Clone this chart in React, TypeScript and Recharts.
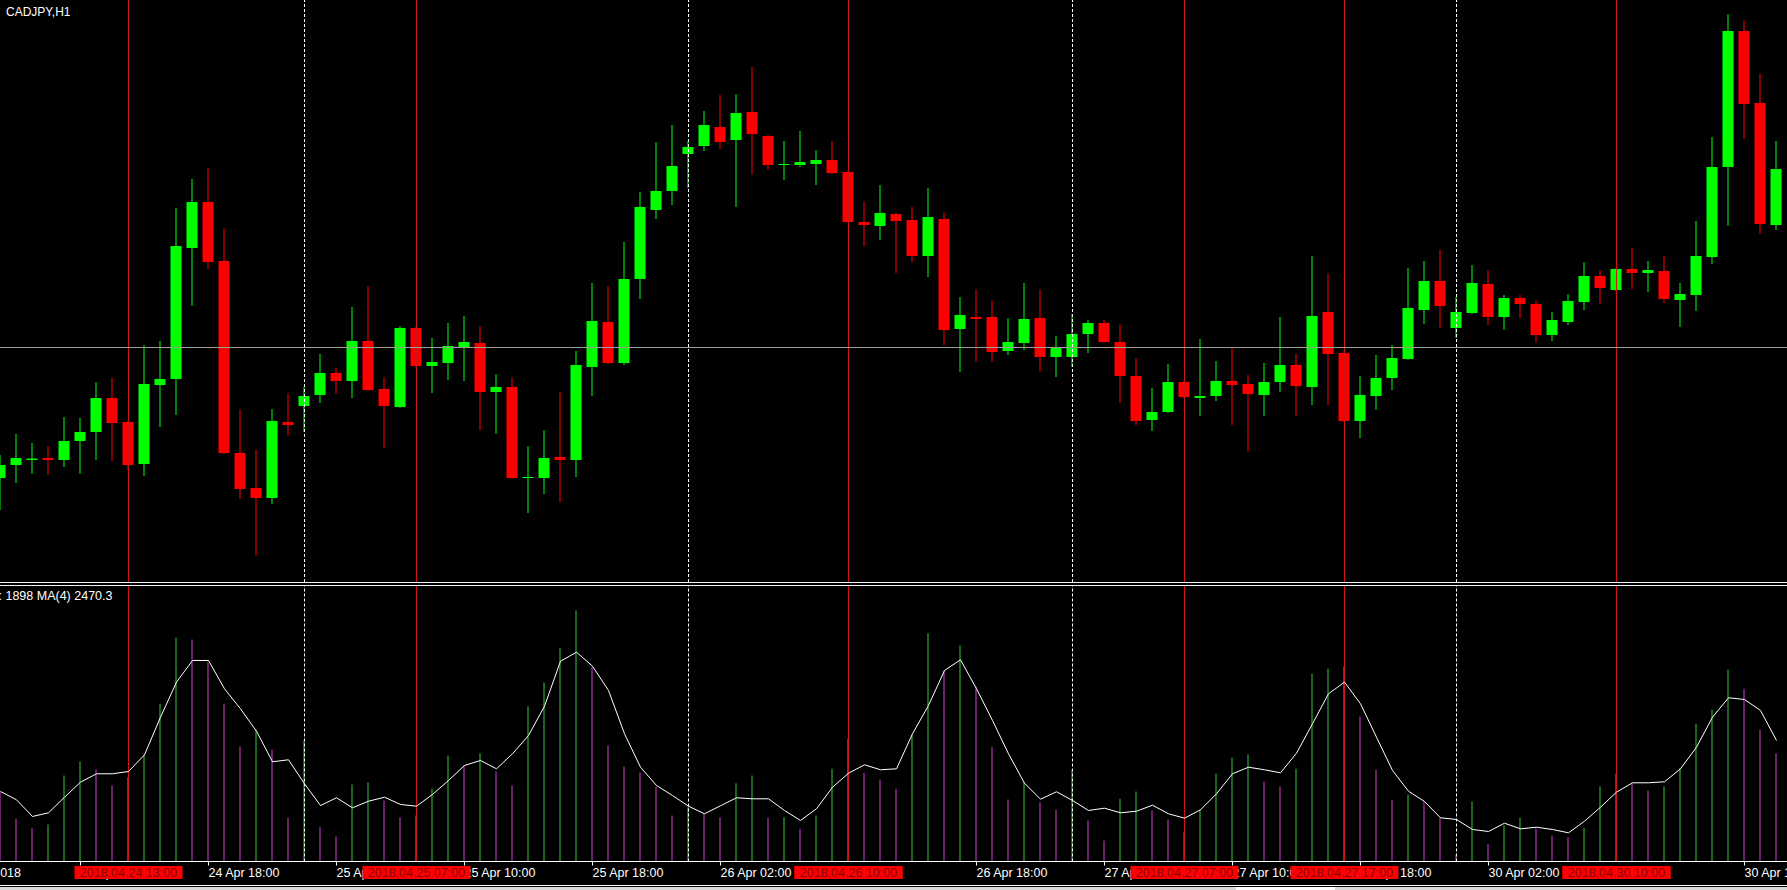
import { ComposedChart, Bar, Line, XAxis, YAxis, ReferenceLine, Cell } from "recharts";

// CADJPY H1, bar 0 = 2018.04.24 05:00
const opens = [
  84.044, 84.070, 84.080, 84.084, 84.080, 84.118, 84.136, 84.204, 84.156, 84.072,
  84.230, 84.242, 84.504, 84.596, 84.478, 84.094, 84.024, 84.004, 84.156, 84.188,
  84.210, 84.254, 84.238, 84.318, 84.222, 84.186, 84.344, 84.268, 84.274, 84.306,
  84.314, 84.216, 84.226, 84.044, 84.044, 84.086, 84.080, 84.266, 84.356, 84.274,
  84.442, 84.580, 84.618, 84.692, 84.708, 84.746, 84.720, 84.776, 84.728, 84.670,
  84.670, 84.672, 84.680, 84.656, 84.556, 84.548, 84.572, 84.560, 84.488, 84.562,
  84.342, 84.366, 84.366, 84.298, 84.314, 84.364, 84.286, 84.286, 84.332, 84.354,
  84.316, 84.248, 84.160, 84.176, 84.236, 84.204, 84.208, 84.238, 84.232, 84.210,
  84.236, 84.270, 84.226, 84.376, 84.294, 84.158, 84.208, 84.244, 84.282, 84.380,
  84.438, 84.344, 84.374, 84.432, 84.366, 84.404, 84.392, 84.330, 84.356, 84.396,
  84.448, 84.420, 84.462, 84.454, 84.458, 84.400, 84.410, 84.486, 84.666, 84.938,
  84.794, 84.550,
];
const highs = [
  84.090, 84.132, 84.114, 84.108, 84.166, 84.164, 84.236, 84.244, 84.160, 84.310,
  84.318, 84.584, 84.642, 84.664, 84.544, 84.182, 84.100, 84.182, 84.214, 84.226,
  84.292, 84.264, 84.386, 84.428, 84.246, 84.348, 84.348, 84.324, 84.354, 84.368,
  84.348, 84.252, 84.246, 84.108, 84.140, 84.216, 84.298, 84.434, 84.428, 84.516,
  84.616, 84.716, 84.750, 84.718, 84.778, 84.810, 84.812, 84.866, 84.730, 84.718,
  84.738, 84.700, 84.718, 84.660, 84.598, 84.630, 84.574, 84.586, 84.624, 84.576,
  84.406, 84.422, 84.400, 84.364, 84.434, 84.422, 84.328, 84.372, 84.360, 84.360,
  84.352, 84.284, 84.224, 84.272, 84.240, 84.322, 84.278, 84.304, 84.250, 84.274,
  84.366, 84.292, 84.488, 84.454, 84.300, 84.248, 84.290, 84.310, 84.464, 84.478,
  84.500, 84.406, 84.470, 84.460, 84.410, 84.410, 84.400, 84.376, 84.412, 84.476,
  84.460, 84.464, 84.504, 84.478, 84.488, 84.434, 84.558, 84.726, 84.972, 84.960,
  84.852, 84.718,
];
const lows = [
  83.980, 84.034, 84.052, 84.050, 84.066, 84.052, 84.080, 84.078, 84.060, 84.048,
  84.146, 84.170, 84.388, 84.462, 84.092, 84.002, 83.888, 83.992, 84.128, 84.136,
  84.194, 84.212, 84.204, 84.218, 84.104, 84.184, 84.264, 84.214, 84.240, 84.238,
  84.140, 84.132, 84.042, 83.974, 84.012, 83.996, 84.046, 84.208, 84.272, 84.270,
  84.402, 84.562, 84.590, 84.624, 84.698, 84.702, 84.586, 84.650, 84.660, 84.640,
  84.666, 84.630, 84.652, 84.554, 84.508, 84.520, 84.454, 84.476, 84.446, 84.310,
  84.256, 84.276, 84.276, 84.290, 84.300, 84.256, 84.246, 84.266, 84.294, 84.314,
  84.194, 84.150, 84.138, 84.174, 84.202, 84.168, 84.198, 84.150, 84.096, 84.168,
  84.216, 84.168, 84.190, 84.190, 84.156, 84.124, 84.180, 84.220, 84.280, 84.352,
  84.344, 84.324, 84.372, 84.350, 84.340, 84.364, 84.314, 84.318, 84.350, 84.380,
  84.392, 84.418, 84.422, 84.416, 84.394, 84.346, 84.378, 84.472, 84.548, 84.722,
  84.532, 84.540,
];
const closes = [
  84.070, 84.084, 84.083, 84.080, 84.118, 84.136, 84.204, 84.154, 84.070, 84.232,
  84.242, 84.508, 84.596, 84.476, 84.094, 84.022, 84.004, 84.158, 84.150, 84.208,
  84.254, 84.238, 84.318, 84.220, 84.188, 84.344, 84.268, 84.276, 84.308, 84.316,
  84.216, 84.226, 84.044, 84.046, 84.084, 84.080, 84.270, 84.358, 84.274, 84.442,
  84.586, 84.618, 84.668, 84.706, 84.750, 84.716, 84.774, 84.732, 84.670, 84.672,
  84.676, 84.680, 84.654, 84.556, 84.550, 84.574, 84.558, 84.488, 84.566, 84.340,
  84.370, 84.362, 84.296, 84.316, 84.362, 84.286, 84.306, 84.332, 84.354, 84.316,
  84.248, 84.158, 84.176, 84.236, 84.206, 84.208, 84.238, 84.230, 84.212, 84.236,
  84.270, 84.228, 84.368, 84.292, 84.158, 84.210, 84.244, 84.284, 84.384, 84.438,
  84.388, 84.376, 84.434, 84.366, 84.404, 84.392, 84.330, 84.360, 84.398, 84.448,
  84.424, 84.462, 84.454, 84.460, 84.402, 84.412, 84.488, 84.666, 84.938, 84.792,
  84.552, 84.662,
];
const volumes = [
  1225, 747, 583, 648, 1505, 1750, 1610, 1330, 1475, 1867,
  2760, 3915, 3885, 3488, 2760, 2013, 2305, 1960, 765, 2118,
  600, 438, 1348, 1383, 1068, 775, 805, 1272, 1855, 1680,
  1895, 1580, 1330, 2718, 3133, 3740, 4393, 3400, 2030, 1663,
  1558, 1313, 805, 950, 835, 775, 1370, 1505, 765, 775,
  572, 805, 1622, 2147, 1552, 1435, 1272, 2223, 3995, 3343,
  3780, 3063, 2000, 1085, 1388, 1038, 905, 1605, 718, 368,
  1097, 1225, 893, 735, 513, 905, 1535, 1815, 1873, 1400,
  1313, 1622, 3285, 3372, 3413, 2538, 1605, 1080, 1167, 1050,
  765, 123, 1050, 310, 630, 765, 583, 455, 425, 590,
  1313, 1535, 1377, 1243, 1313, 1640, 2410, 2655, 3355, 3022,
  2305, 1895,
];
const volumeMA = [
  1225, 1080, 788, 852, 1125, 1388, 1535, 1535, 1575, 1867,
  2525, 3138, 3518, 3518, 3022, 2672, 2280, 1745, 1780, 1360,
  980, 1115, 940, 1055, 1125, 998, 968, 1173, 1418, 1680,
  1768, 1622, 1885, 2205, 2718, 3505, 3663, 3418, 2993, 2235,
  1650, 1330, 1155, 968, 835, 975, 1115, 1097, 1097, 893,
  718, 922, 1300, 1545, 1692, 1605, 1622, 2235, 2730, 3343,
  3530, 3022, 2468, 1885, 1370, 1090, 1220, 1068, 893, 933,
  852, 880, 985, 835, 758, 905, 1185, 1535, 1650, 1605,
  1552, 1895, 2410, 2935, 3138, 2760, 2175, 1593, 1230, 1050,
  765, 735, 560, 525, 670, 572, 600, 560, 502, 705,
  950, 1213, 1377, 1377, 1395, 1622, 2000, 2525, 2865, 2835,
  2643, 2118,
];

const timeTickBars = [5, 13, 21, 29, 37, 45, 53, 61, 69, 77, 85, 93, 101, 109];
const timeTickLabels = [
  "24 Apr 10:00", "24 Apr 18:00", "25 Apr 02:00", "25 Apr 10:00", "25 Apr 18:00",
  "26 Apr 02:00", "26 Apr 10:00", "26 Apr 18:00", "27 Apr 02:00", "27 Apr 10:00",
  "27 Apr 18:00", "30 Apr 02:00", "30 Apr 10:00", "30 Apr 18:00",
];
const markerBars = [8, 26, 53, 74, 84, 101];
const markerLabels = [
  "2018.04.24 13:00", "2018.04.25 07:00", "2018.04.26 10:00",
  "2018.04.27 07:00", "2018.04.27 17:00", "2018.04.30 10:00",
];
const daySeparatorBars = [19, 43, 67, 91];
const firstDateLabel = "24 Apr 2018";
const symbolLabel = "CADJPY,H1";
const volumeLabel = ": 1898 MA(4) 2470.3";
const crossPrice = 84.305;

const data = opens.map((o, i) => ({
  i,
  o,
  h: highs[i],
  l: lows[i],
  c: closes[i],
  vol: volumes[i],
  ma: volumeMA[i],
}));

const W = 1787;
const X_DOMAIN = [-0.03125, 111.65625]; // 16px per bar
const FONT = "Liberation Sans, Arial, sans-serif";
const BULL = "#00ff00";
const BEAR = "#ff0000";
const MARKER_RED = "#d01414";

function Candle(props: any) {
  const { x, y, width, height, payload } = props;
  const cx = x + width / 2;
  const top = Math.min(y, y + height);
  const bot = Math.max(y, y + height);
  const { o, h, l, c } = payload;
  const k = h > l ? (bot - top) / (h - l) : 0;
  const yO = top + (h - o) * k;
  const yC = top + (h - c) * k;
  const color = c >= o ? BULL : BEAR;
  const bTop = Math.min(yO, yC);
  const bH = Math.max(1, Math.abs(yO - yC));
  return (
    <g>
      <line x1={cx} x2={cx} y1={top} y2={bot} stroke={color} strokeWidth={1} />
      <rect x={cx - 5.5} y={bTop} width={11} height={bH} fill={color} />
    </g>
  );
}

function AxisTick(props: any) {
  const { x, y, payload } = props;
  const v = payload.value;
  const m = markerBars.indexOf(v);
  if (m >= 0) {
    return (
      <g>
        <rect x={x - 54} y={y + 4.5} width={108} height={13} fill="#ff0000" />
        <text x={x} y={y + 15.5} textAnchor="middle" fill="#8a0000" fontSize={12.5} fontFamily={FONT}>
          {markerLabels[m]}
        </text>
      </g>
    );
  }
  if (v === 0) {
    return (
      <text x={x + 20.5} y={y + 15.5} textAnchor="end" fill="#fff" fontSize={12.5} fontFamily={FONT}>
        {firstDateLabel}
      </text>
    );
  }
  const t = timeTickBars.indexOf(v);
  return (
    <g>
      <line x1={x} x2={x} y1={y} y2={y + 4} stroke="#fff" strokeWidth={1} />
      <text x={x} y={y + 15.5} fill="#fff" fontSize={12.5} fontFamily={FONT}>
        {timeTickLabels[t]}
      </text>
    </g>
  );
}

function verticalLines() {
  return [
    ...daySeparatorBars.map((b) => (
      <ReferenceLine key={"d" + b} x={b} stroke="#ffffff" strokeDasharray="3 2" strokeWidth={1} />
    )),
    ...markerBars.map((b) => (
      <ReferenceLine key={"m" + b} x={b} stroke={MARKER_RED} strokeWidth={1} />
    )),
  ];
}

export default function App() {
  return (
    <div
      style={{
        position: "fixed",
        left: 0,
        top: 0,
        width: W,
        height: 890,
        background: "#000",
        overflow: "hidden",
        fontFamily: FONT,
      }}
    >
      <div style={{ position: "absolute", left: 0, top: 0 }}>
        <ComposedChart width={W} height={582} data={data} margin={{ top: 0, right: 0, bottom: 0, left: 0 }}>
          <XAxis type="number" dataKey="i" domain={X_DOMAIN} allowDataOverflow hide ticks={data.map((d) => d.i)} />
          <YAxis type="number" domain={[83.836, 85]} allowDataOverflow hide />
          {verticalLines()}
          <ReferenceLine y={crossPrice} stroke="#9a9a9a" strokeWidth={1} />
          <Bar dataKey={(d: any) => [d.l, d.h]} barSize={11} shape={Candle} isAnimationActive={false} />
        </ComposedChart>
      </div>

      <div style={{ position: "absolute", left: 0, top: 586 }}>
        <ComposedChart width={W} height={304} data={data} margin={{ top: 0, right: 0, bottom: 0, left: 0 }}>
          <XAxis
            type="number"
            dataKey="i"
            domain={X_DOMAIN}
            allowDataOverflow
            ticks={[0, ...timeTickBars, ...markerBars]}
            interval={0}
            tickLine={false}
            tickSize={0}
            tickMargin={0}
            axisLine={{ stroke: "#ffffff", strokeWidth: 1 }}
            height={28.5}
            tick={(p: any) => <AxisTick {...p} />}
          />
          <YAxis type="number" domain={[0, 4821]} allowDataOverflow hide />
          {verticalLines()}
          <Bar dataKey="vol" barSize={1} isAnimationActive={false}>
            {data.map((d, i) => (
              <Cell key={i} fill={i > 0 && d.vol > volumes[i - 1] ? "#38cc38" : "#d040d0"} />
            ))}
          </Bar>
          <Line
            type="linear"
            dataKey="ma"
            stroke="#ffffff"
            strokeWidth={1}
            dot={false}
            activeDot={false}
            isAnimationActive={false}
          />
        </ComposedChart>
      </div>

      <svg
        width={W}
        height={890}
        style={{ position: "absolute", left: 0, top: 0, pointerEvents: "none" }}
      >
        <text x={6} y={16} fill="#fff" fontSize={12} fontFamily={FONT}>
          {symbolLabel}
        </text>
        <rect x={0} y={582} width={W} height={1} fill="#f2f2f2" />
        <rect x={0} y={585} width={W} height={1} fill="#f2f2f2" />
        <text x={-1.5} y={600} fill="#fff" fontSize={12.5} fontFamily={FONT}>
          {volumeLabel}
        </text>
        <rect x={0} y={885} width={W} height={1} fill="#ffffff" />
        <rect x={0} y={887} width={W} height={3} fill="#d8d8d8" />
        <rect x={1236} y={887} width={99} height={3} fill="#ffffff" />
      </svg>
    </div>
  );
}
